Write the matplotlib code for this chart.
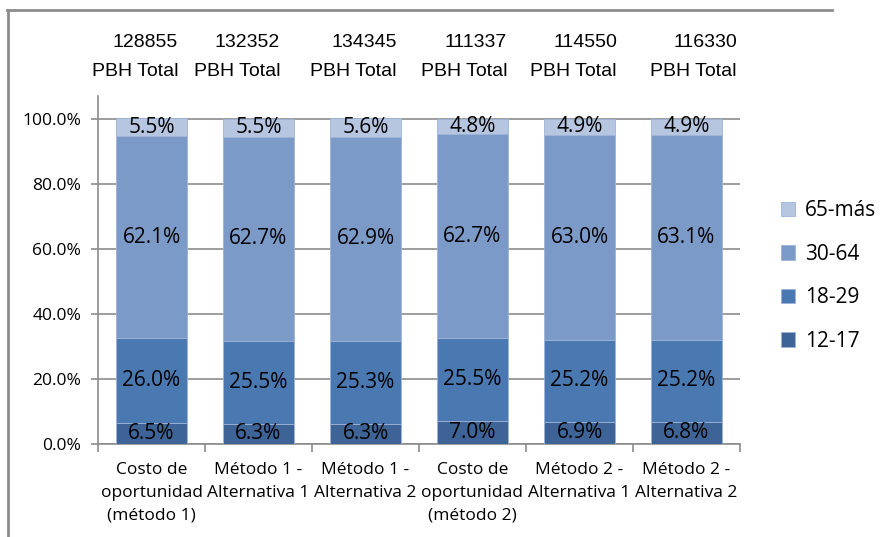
import matplotlib
matplotlib.use("Agg")
import matplotlib.pyplot as plt
from matplotlib.lines import Line2D
import numpy as np

categories = [
    "Costo de\noportunidad\n(método 1)",
    "Método 1 -\nAlternativa 1",
    "Método 1 -\nAlternativa 2",
    "Costo de\noportunidad\n(método 2)",
    "Método 2 -\nAlternativa 1",
    "Método 2 -\nAlternativa 2",
]
totals = ["128855", "132352", "134345", "111337", "114550", "116330"]
age_groups = ["12-17", "18-29", "30-64", "65-más"]
share_12_17 = [6.5, 6.3, 6.3, 7.0, 6.9, 6.8]
share_18_29 = [26.0, 25.5, 25.3, 25.5, 25.2, 25.2]
share_30_64 = [62.1, 62.7, 62.9, 62.7, 63.0, 63.1]
share_65 = [5.5, 5.5, 5.6, 4.8, 4.9, 4.9]

colors = ["#3E6497", "#4A78B0", "#7C9AC8", "#B6C5E0"]
label_font = ["Open Sans", "DejaVu Sans"]

fig = plt.figure(figsize=(8.86, 5.37), dpi=100)
ax = fig.add_axes([98 / 886, 1 - 444 / 537, 642 / 886, 348 / 537])

x = np.arange(len(categories))
bottom = np.zeros(len(categories))
series = [share_12_17, share_18_29, share_30_64, share_65]
for name, vals, col in zip(age_groups, series, colors):
    vals = np.array(vals) / 100.0
    ax.bar(x, vals, bottom=bottom, width=0.67, color=col, label=name,
           edgecolor="#9DB3D6", linewidth=0.6, zorder=3)
    for xi, b, v in zip(x, bottom, vals):
        ax.text(xi, b + v / 2, f"{v * 100:.1f}%", ha="center", va="center",
                fontsize=15, family=label_font, color="black", zorder=4)
    bottom += vals

ax.set_xlim(-0.5, len(categories) - 0.5)
ax.set_ylim(0, 1.07)
ax.set_yticks([0, 0.2, 0.4, 0.6, 0.8, 1.0])
ax.set_yticklabels([f"{v:.1f}%" for v in [0, 20, 40, 60, 80, 100]],
                   fontsize=12.5, family=label_font)
ax.yaxis.grid(True, color="#8C8C8C", linewidth=1.2, zorder=0)
ax.set_axisbelow(True)

ax.set_xticks(np.arange(len(categories) + 1) - 0.5)
ax.set_xticklabels([])
ax.set_xticks(x, minor=True)
ax.set_xticklabels(categories, minor=True, fontsize=12.5, family=label_font,
                   linespacing=1.55)
ax.tick_params(axis="x", which="minor", length=0, pad=13)
ax.tick_params(axis="x", which="major", length=6, width=1.2, color="#8C8C8C")
ax.tick_params(axis="y", length=5, width=1.2, color="#8C8C8C", pad=7)

for side in ["top", "right"]:
    ax.spines[side].set_visible(False)
for side in ["left", "bottom"]:
    ax.spines[side].set_color("#8C8C8C")
    ax.spines[side].set_linewidth(1.2)

# totals above bars (right-aligned text boxes)
total_right = [178, 280, 397, 507, 617, 737]
for tx, t in zip(total_right, totals):
    fig.text(tx / 886, 1 - 57 / 537, f"{t}\nPBH Total", ha="right", va="center",
             multialignment="right", fontsize=14,
             family=["Liberation Sans Narrow", "Liberation Sans"],
             linespacing=1.9)

handles, labels = ax.get_legend_handles_labels()
leg = fig.legend(handles[::-1], labels[::-1], loc="center left",
                 bbox_to_anchor=(762 / 886, 1 - 276 / 537), frameon=False,
                 prop={"family": label_font, "size": 15},
                 handlelength=0.7, handleheight=0.7, handletextpad=0.45,
                 labelspacing=1.08)

# outer frame lines
fig.add_artist(Line2D([7 / 886, 832 / 886], [1 - 10 / 537, 1 - 10 / 537],
                      color="#8C8C8C", linewidth=2))
fig.add_artist(Line2D([8 / 886, 8 / 886], [1 - 10 / 537, 0],
                      color="#8C8C8C", linewidth=2))

fig.savefig("out.png", dpi=100)
